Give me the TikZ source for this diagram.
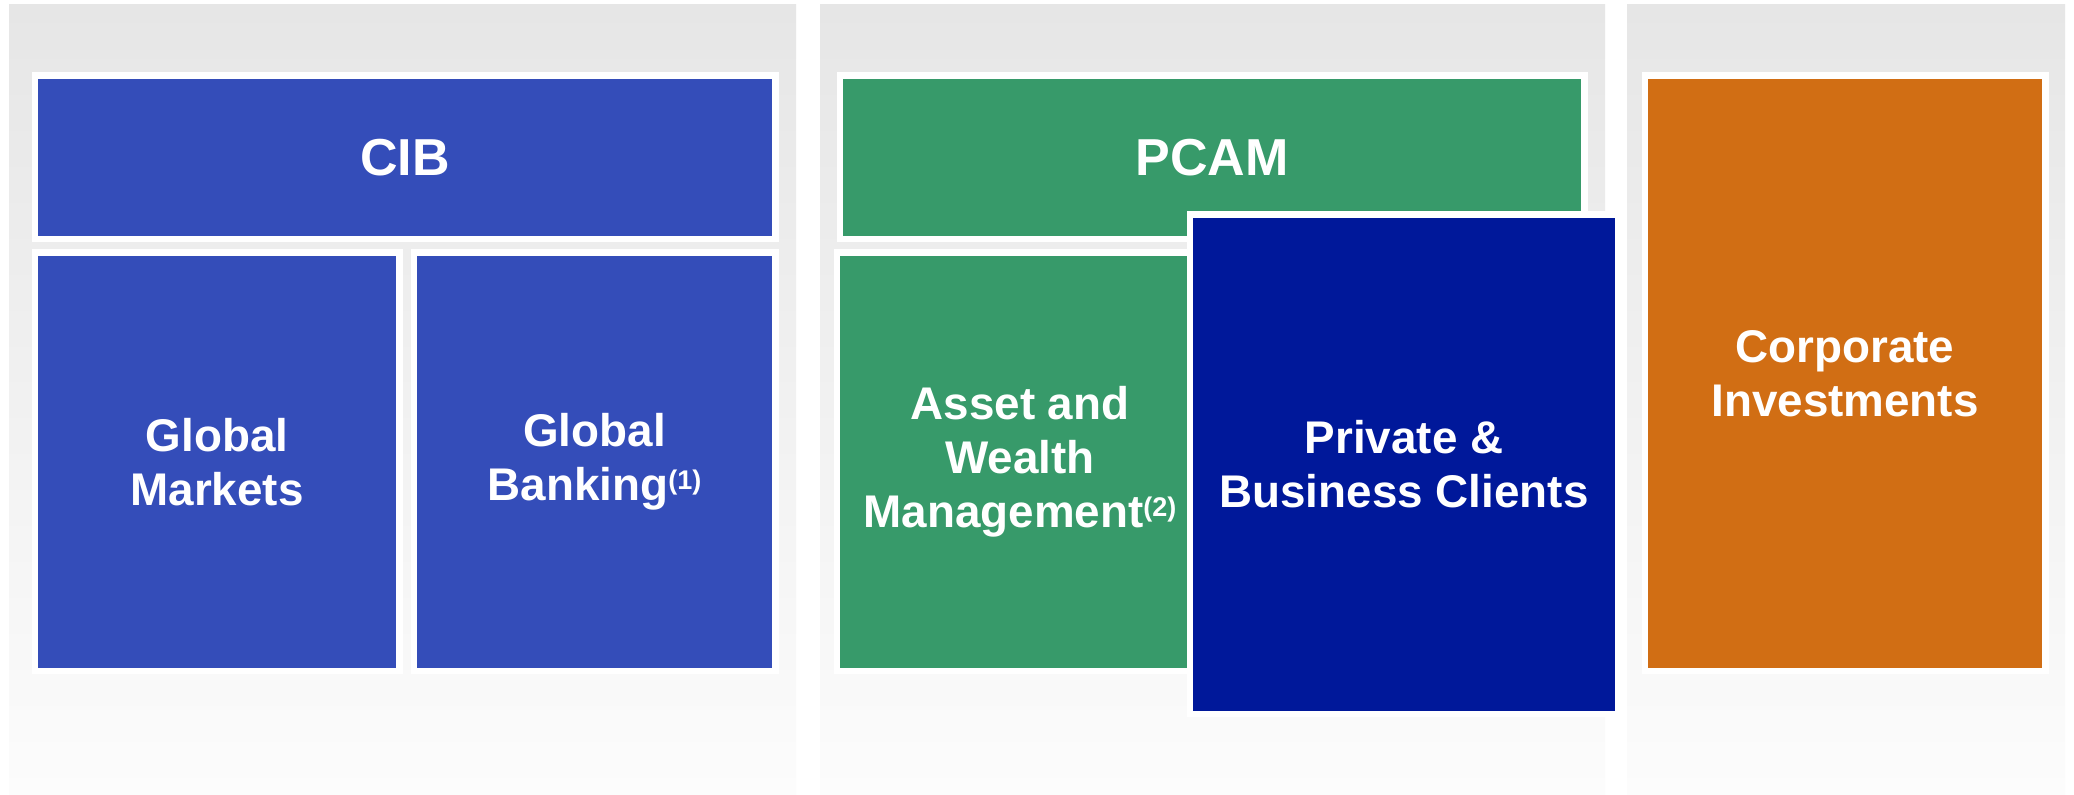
\documentclass[tikz,border=0pt]{standalone}
\usepackage{fontspec}
\setmainfont{Liberation Sans}
\definecolor{cibblue}{HTML}{344DB9}
\definecolor{pcamgreen}{HTML}{379A6A}
\definecolor{pbcnavy}{HTML}{00189A}
\definecolor{ciorange}{HTML}{D16E14}
\definecolor{paneltop}{HTML}{E6E6E6}
\definecolor{panelbot}{HTML}{FCFCFC}
\newcommand{\fnref}[1]{\raisebox{0.25em}{\fontsize{13.5}{13.5}\selectfont(#1)}}
\begin{document}
\begin{tikzpicture}[x=0.5pt,y=-0.5pt,
  panel/.style={top color=paneltop,bottom color=panelbot,draw=none},
  seg/.style={draw=white,line width=3.25pt,rectangle,inner sep=0pt,outer sep=0pt,
    text=white,font=\bfseries\fontsize{22.9}{27}\selectfont,align=center},
  head/.style={seg,font=\bfseries\fontsize{26}{30}\selectfont}]
\useasboundingbox (0,0) rectangle (2074,795);
\fill[white] (0,0) rectangle (2074,795);
% panels
\shade[panel] (9,5) rectangle (796,795);
\shade[panel] (820,5) rectangle (1605,795);
\shade[panel] (1627,5) rectangle (2065,795);
% CIB
\node[head,fill=cibblue,minimum width=370.25pt,minimum height=81.75pt] (cib) at (405,157.5) {CIB};
\node[seg,fill=cibblue,minimum width=182.25pt,minimum height=209.25pt] (gm) at (217,462) {Global\\Markets};
\node[seg,fill=cibblue,minimum width=180.75pt,minimum height=209.25pt] (gb) at (594.5,462) {Global\\Banking\fnref{1}};
% PCAM
\node[head,fill=pcamgreen,minimum width=372.25pt,minimum height=81.75pt] (pcam) at (1212,157.5) {PCAM};
\node[seg,fill=pcamgreen,minimum width=183.25pt,minimum height=209.25pt] (awm) at (1020,462) {Asset and\\Wealth\\Management\fnref{2}};
\node[seg,fill=pbcnavy,minimum width=214.25pt,minimum height=249.75pt] (pbc) at (1404,464.5) {Private \&\\Business Clients};
% Corporate Investments
\node[seg,fill=ciorange,minimum width=200.25pt,minimum height=297.75pt] (ci) at (1845,373.5) {Corporate\\Investments};
\end{tikzpicture}
\end{document}
